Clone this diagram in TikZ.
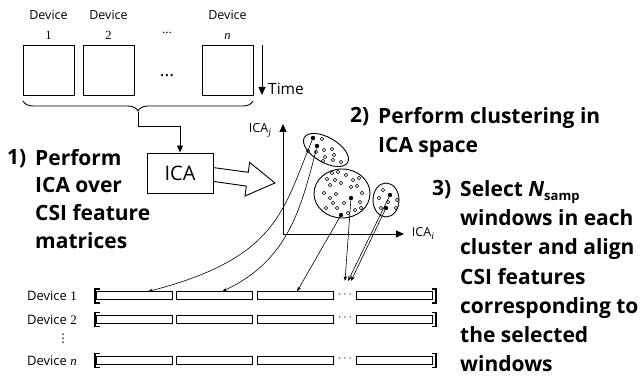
\documentclass[tikz,border=0pt]{standalone}
\usepackage{fontspec}
\setmainfont{Open Sans}
\newfontfamily\numfont{Liberation Serif}
\newfontfamily\symfont{DejaVu Sans}
\usetikzlibrary{arrows.meta,decorations.pathreplacing,shapes.geometric}

\tikzset{
  frame/.style={draw,line width=0.9pt,minimum width=51pt,minimum height=50pt,inner sep=0pt},
  devlab/.style={font=\fontsize{12.5}{20}\selectfont,align=center,inner sep=0pt},
  rowlab/.style={font=\fontsize{13}{14}\selectfont,anchor=east,inner sep=0pt},
  steptext/.style={font=\fontsize{21}{27.6}\selectfont\bfseries,align=left,anchor=north west,inner sep=0pt},
  stepnum/.style={font=\fontsize{21}{27.6}\selectfont\bfseries,anchor=north west,inner sep=0pt},
  bar/.style={draw,line width=1pt,fill=white,minimum width=76pt,minimum height=8pt,inner sep=0pt},
  hdot/.style={circle,draw,line width=0.6pt,inner sep=0pt,minimum size=3.6pt},
  fdot/.style={circle,fill,inner sep=0pt,minimum size=4.4pt},
  cluster/.style={ellipse,draw,line width=0.9pt,inner sep=0pt},
  axis/.style={line width=0.9pt,-{Triangle[length=8pt,width=7pt]}},
  pick/.style={line width=0.6pt,-{Stealth[length=5pt,width=3.5pt]}},
  feed/.style={line width=0.9pt,-{Triangle[length=7pt,width=6pt]}},
}

\begin{document}
\begin{tikzpicture}[x=1pt,y=-1pt]
\useasboundingbox (0,0) rectangle (641,382);

% ---- raw CSI matrices of the devices
\node[frame] (dev1) at (48.5,70) {};
\node[frame] (dev2) at (108.5,70) {};
\node[frame] (devn) at (227.5,70) {};
\node[devlab] (lab1) at (48.5,25) {Device\\{\numfont 1}};
\node[devlab] (lab2) at (108.5,25) {Device\\{\numfont 2}};
\node[devlab] (labn) at (227.5,25) {Device\\{\numfont\itshape n}};
\node[font=\numfont\fontsize{13}{13}\selectfont,inner sep=0pt] (topdots) at (167,33) {...};
\node[font=\fontsize{18}{18}\selectfont,inner sep=0pt] (middots) at (167,76) {...};

% time direction
\coordinate (t0) at (262,45);
\coordinate (t1) at (262,95);
\draw[axis] (t0) -- (t1);
\node[font=\fontsize{15.5}{16}\selectfont,anchor=west,inner sep=0pt] (time) at (268,89) {Time};

% brace collecting all matrices, feeding the ICA block
\coordinate (brl) at (23,101);
\coordinate (brr) at (253,101);
\coordinate (brtip) at (138,112);
\coordinate (bend) at (180,126);
\draw[decorate,decoration={brace,mirror,amplitude=10pt},line width=0.9pt] (brl) -- (brr);
\node[draw,line width=0.9pt,minimum width=66pt,minimum height=40pt,inner sep=0pt,
      font=\fontsize{20}{20}\selectfont] (ica) at (180,173) {ICA};
\draw[feed] (brtip) |- (bend) -- (ica.north);

% hollow arrow towards the ICA space
\draw[line width=0.9pt,fill=white,line join=miter]
  (ica.east |- 0,167.6) -- (248.3,172.3) -- (249.6,162.4) -- (275,183)
  -- (245,196) -- (246.3,186.1) -- (ica.east |- 0,181.4) -- cycle;

% ---- ICA space
\coordinate (org) at (283,234);
\coordinate (ytop) at (283,124);
\coordinate (xend) at (404,234);
\draw[axis] (org) -- (ytop);
\draw[axis] (org) -- (xend);
\node[font=\fontsize{12.5}{13}\selectfont,inner sep=0pt] (icaj) at (260,131) {ICA\raisebox{-3pt}{\numfont\itshape\fontsize{10}{10}\selectfont j}};
\node[font=\fontsize{12.5}{13}\selectfont,inner sep=0pt] (icai) at (423,233) {ICA\raisebox{-3pt}{\numfont\itshape\fontsize{10}{10}\selectfont i}};

% clusters
\node[cluster,minimum width=50pt,minimum height=25pt,rotate=-30] (c1) at (326,150) {};
\node[cluster,minimum width=56pt,minimum height=49pt] (c2) at (342,193.5) {};
\node[cluster,minimum width=26pt,minimum height=34pt] (c3) at (386,200) {};

\foreach \p in {(322,139),(308,151),(316,152),(324,150),(332,149),(325,157),(334,155),(333,160),(341,162),(323,161)}
  \node[hdot] at \p {};
\foreach \p in {(332,173),(338,172),(346,175),(327,179),(335,180),(330,185),(341,183),(353,180),(359,178),
                (351,187),(357,186),(324,193),(330,198),(336,194),(362,193),(360,202),(333,203),(337,208),
                (326,208),(344,203),(355,210),(361,208),(348,213)}
  \node[hdot] at \p {};
\foreach \p in {(383,190),(379,198),(397,200),(388,202),(396,208),(381,208)}
  \node[hdot] at \p {};

\node[fdot] (f1a) at (313,138) {};
\node[fdot] (f1b) at (317,146) {};
\node[fdot] (f2a) at (351,198) {};
\node[fdot] (f2b) at (341,215) {};
\node[fdot] (f3a) at (390,195) {};
\node[fdot] (f3b) at (386,208) {};

% ---- aligned CSI features of the devices
\foreach \r/\y/\t in {1/296/{Device {\numfont 1}},2/319.5/{Device {\numfont 2}},n/360.5/{Device {\numfont\itshape n}}}{
  \node[rowlab] (row\r) at (77,\y) {\t};
  \node[bar] (b\r a) at (134,\y) {};
  \node[bar] (b\r b) at (214.5,\y) {};
  \node[bar] (b\r c) at (295.5,\y) {};
  \node[bar] (b\r d) at (394,\y) {};
  \node[font=\fontsize{12}{12}\selectfont,inner sep=0pt] (gap\r) at (345,\y-1.5) {$\cdots$};
  \draw[line width=1.2pt] ([xshift=4pt]b\r a.west |- 0,\y-7) -- ++(-4.5,0) -- ++(0,14) -- ++(4.5,0);
  \draw[line width=1.2pt] ([xshift=-0.5pt]b\r d.east |- 0,\y-7) -- ++(4,0) -- ++(0,14) -- ++(-4,0);
}
\node[font=\symfont\fontsize{12}{12}\selectfont,inner sep=0pt] (vd) at (63,339) {⋮};

% selected windows mapped to the feature rows
\coordinate (s4) at (345,281);
\coordinate (s5) at (348,281);
\coordinate (s6) at (351,281);
\draw[pick] (f1a) .. controls (283,210) and (278,258) .. (b1a.north -| 148,0);
\draw[pick] (f1b) .. controls (300,215) and (285,262) .. (b1b.north -| 222,0);
\draw[pick] (f2b) -- (b1c.north -| 297,0);
\draw[pick] (f2a) -- (s4);
\draw[pick] (f3a) -- (s5);
\draw[pick] (f3b) -- (s6);

% ---- step descriptions
\node[stepnum] (n1) at (7,149) {1)};
\node[steptext] (t1) at (35,149) {Perform\\ICA over\\CSI feature\\matrices};
\node[stepnum] (n2) at (350,107) {2)};
\node[steptext,font=\fontsize{21}{29}\selectfont\bfseries] (t2) at (378,107) {Perform clustering in\\ICA space};
\node[stepnum] (n3) at (432,180) {3)};
\node[steptext,font=\fontsize{21}{29.3}\selectfont\bfseries] (t3) at (460,180) {Select {\itshape N}\raisebox{-4pt}{\fontsize{13}{13}\selectfont samp}\\windows in each\\cluster and align\\CSI features\\corresponding to\\the selected\\windows};
\end{tikzpicture}
\end{document}
